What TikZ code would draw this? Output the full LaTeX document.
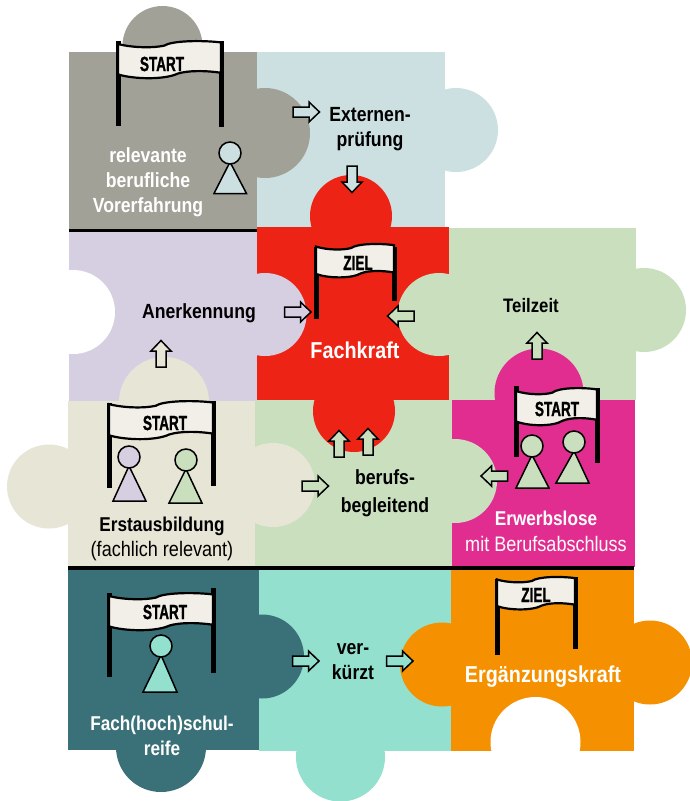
\documentclass[tikz,border=0pt]{standalone}
\usepackage{fontspec}
\setmainfont[FakeStretch=0.86]{Liberation Sans}
\newfontfamily\flagfont[FakeStretch=0.66,FakeBold=1.2]{Liberation Sans}
\definecolor{cgray}{HTML}{A2A197}
\definecolor{cblue}{HTML}{CCE0E2}
\definecolor{cred}{HTML}{ED2415}
\definecolor{clilac}{HTML}{D6CFE2}
\definecolor{cbeige}{HTML}{E7E6D6}
\definecolor{cgreen}{HTML}{C9DFBE}
\definecolor{cmag}{HTML}{E12C90}
\definecolor{cteal}{HTML}{3A7078}
\definecolor{cmint}{HTML}{93E0CF}
\definecolor{corange}{HTML}{F59100}
\definecolor{cbanner}{HTML}{F1EFE8}
\newcommand{\piece}[5]{\fill[#1] (#2,#3) rectangle (#4,#5);}
\newcommand{\knob}[4]{\fill[#1] (#2,#3) circle[radius=#4];}
% xl xr topL botL topR botR bannerTop bannerH poleW
\newcommand{\flagpic}[9]{%
  \draw[line width=#9pt] (#1,#3) -- (#1,#4);
  \draw[line width=#9pt] (#2,#5) -- (#2,#6);
  \begin{scope}[shift={(#1,#7)},x=#2pt-#1pt,y=-#8pt]
  \path[fill=cbanner,draw=black,line width=2.2pt]
    (0,.1) .. controls (.15,.2) and (.35,.2) .. (.45,.14)
    .. controls (.52,.02) and (.8,0) .. (1,.06) -- (1,.82)
    .. controls (.85,.76) and (.68,.76) .. (.58,.84)
    .. controls (.45,1) and (.15,.98) .. (0,.86) -- cycle;
  \end{scope}}
\newcommand{\pawn}[6]{% fill cx cy basey xl xr
  \draw[fill=#1,line width=1.5pt,line join=miter] (#2,#3+9) -- (#6,#4) -- (#5,#4) -- cycle;
  \draw[fill=#1,line width=1.5pt] (#2,#3) circle[radius=11];}
\newcommand{\blockarrow}[4]{% fill x y angle (center)
  \begin{scope}[shift={(#2,#3)},rotate=#4]
  \draw[fill=#1,line width=1.5pt,line join=miter]
    (-13,-5) -- (3,-5) -- (3,-10) -- (13.5,0) -- (3,10) -- (3,5) -- (-13,5) -- cycle;
  \end{scope}}
\tikzset{
  lab/.style={inner sep=0pt,align=center,font=\fontsize{20.5}{25}\selectfont\bfseries,text=black},
  whitelab/.style={lab,text=white},
  reglab/.style={inner sep=0pt,align=center,font=\fontsize{21}{25}\selectfont},
  flagtext/.style={inner sep=0pt,font=\flagfont\fontsize{20.5}{20.5}\selectfont\bfseries,text=black},
}
\begin{document}
\begin{tikzpicture}[x=1pt,y=-1pt]
\useasboundingbox (0,0) rectangle (690,801);
\fill[white] (0,0) rectangle (690,801);
% pieces
\piece{cblue}{257}{52}{445}{228}
\knob{cblue}{456}{130}{42}
\knob{cgray}{162.5}{46}{40}
\piece{cgray}{69}{52}{257}{229}
\knob{cgray}{265}{133}{45}
\piece{clilac}{69}{232}{257}{402}
\fill[white] (73,312) circle[radius=42];
\fill[white] (40,260) rectangle (69,370);
\knob{cred}{351}{216}{41}
\piece{cred}{257}{227}{449}{400}
\piece{cgreen}{449}{228}{636}{400}
\knob{cgreen}{644}{310}{42}
\knob{clilac}{265}{314.5}{41.5}
\knob{cgreen}{439}{314.5}{41.5}
\knob{cmag}{539}{393}{44.5}
\piece{cgreen}{255}{400}{452}{566}
\knob{cred}{354}{411}{41}
\knob{cgreen}{455}{481}{42}
\knob{cbeige}{164}{402}{45}
\piece{cbeige}{68}{401}{255}{566}
\knob{cbeige}{49}{486.5}{42}
\knob{cbeige}{273}{485}{42}
\piece{cmag}{452}{400}{635}{567}
\knob{cgreen}{455}{481}{42}
\knob{cmint}{340.5}{757}{44.5}
\piece{cmint}{259}{569}{451}{751}
\knob{cteal}{161}{747}{45}
\piece{cteal}{68}{569}{259}{750}
\knob{cteal}{262}{656.5}{42}
\knob{corange}{650}{662.5}{42}
\piece{corange}{451}{569}{634}{751}
\knob{corange}{442}{664.5}{42}
\fill[white] (535.5,742) circle[radius=45];
\fill[white] (480,751) rectangle (590,790);
% rules
\fill[black] (69,229) rectangle (257,232);
\fill[black] (68,566) rectangle (634,570);
% flags
\flagpic{118}{221}{41}{126}{41}{127}{40}{40}{5}
\flagpic{316}{394}{247}{319}{247}{301}{243}{36}{5}
\flagpic{109}{213}{403}{488}{401}{486}{400}{41}{5}
\flagpic{516}{597}{386}{457}{388}{463}{387}{40}{5}
\flagpic{109}{213}{593}{677}{588}{673}{592}{40}{5}
\flagpic{497}{575}{579}{655}{577}{649}{576}{35}{5}
\node[flagtext] (f1) at (162,64) {START};
\node[flagtext] (f2) at (358,263) {ZIEL};
\node[flagtext] (f3) at (165,423) {START};
\node[flagtext] (f4) at (557,409) {START};
\node[flagtext] (f5) at (165,612) {START};
\node[flagtext] (f6) at (536,595) {ZIEL};
% pawns
\pawn{cblue}{230}{153}{193.5}{214}{246.5}
\pawn{clilac}{129}{457}{501}{113}{146}
\pawn{cgreen}{186}{460}{503}{169}{202}
\pawn{cgreen}{532}{446}{488}{516}{549}
\pawn{cgreen}{574}{442}{483}{556}{589}
\pawn{cmint}{161}{646}{692}{143}{177}
% arrows
\blockarrow{cblue}{306}{112}{0}
\blockarrow{cblue}{352}{179}{-90}
\blockarrow{clilac}{297.5}{312}{0}
\blockarrow{cgreen}{401}{316}{180}
\blockarrow{cgreen}{537}{346}{90}
\blockarrow{cgreen}{339}{444}{90}
\blockarrow{cgreen}{368}{442}{90}
\blockarrow{cbeige}{161}{354}{90}
\blockarrow{cgreen}{315}{486}{0}
\blockarrow{cgreen}{494.5}{476}{180}
\blockarrow{cmint}{305.5}{661}{0}
\blockarrow{cmint}{399.5}{661}{0}
% labels
\node[whitelab] (t1) at (148,182.5) {relevante\\berufliche\\Vorerfahrung};
\node[lab] (t2) at (370,129.5) {Externen-\\prüfung};
\node[lab] (t3) at (199,313.5) {Anerkennung};
\node[whitelab,font=\fontsize{23}{25}\selectfont\bfseries] (t4) at (355,350) {Fachkraft};
\node[lab,font=\fontsize{19.5}{25}\selectfont\bfseries] (t5) at (531,306) {Teilzeit};
\node[lab,font=\fontsize{20.5}{28}\selectfont\bfseries] (t6) at (385,493) {berufs-\\begleitend};
\node[lab] (t7) at (353,661.5) {ver-\\kürzt};
\node[lab,font=\fontsize{20}{25}\selectfont\bfseries] (t8) at (162,526) {Erstausbildung};
\node[reglab] (t9) at (162,551) {(fachlich relevant)};
\node[whitelab,font=\fontsize{20}{25}\selectfont\bfseries] (t10) at (546,518) {Erwerbslose};
\node[reglab,text=white] (t11) at (546,544) {mit Berufsabschluss};
\node[whitelab,font=\fontsize{20}{25}\selectfont\bfseries] (t12) at (162,736) {Fach(hoch)schul-\\reife};
\node[whitelab,font=\fontsize{23}{25}\selectfont\bfseries] (t13) at (543,677) {Ergänzungskraft};
\end{tikzpicture}
\end{document}
